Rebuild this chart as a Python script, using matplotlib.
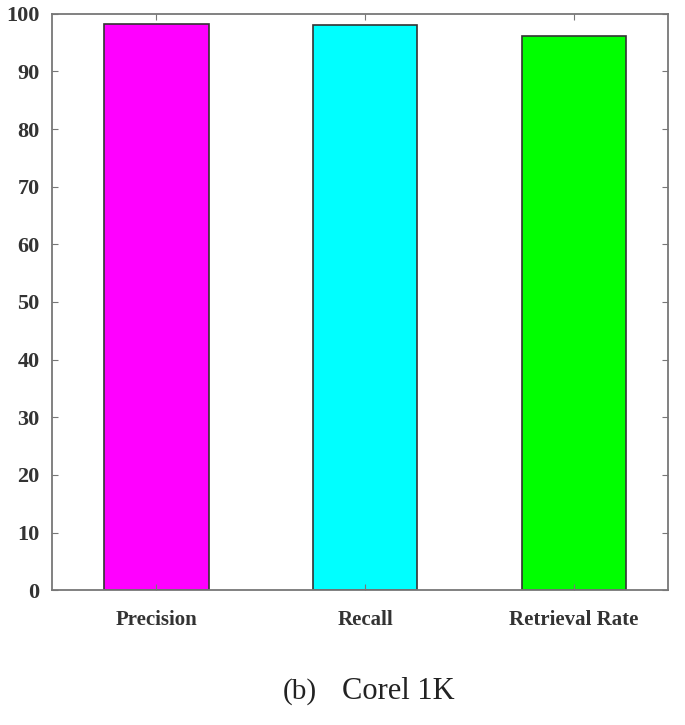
import matplotlib
matplotlib.use("Agg")
import matplotlib.pyplot as plt

categories = ["Precision", "Recall", "Retrieval Rate"]
values = [98.2, 98.1, 96.2]
bar_colors = ["#ff00ff", "#00ffff", "#00ff00"]
y_ticks = list(range(0, 101, 10))

plt.rcParams["font.family"] = ["Liberation Serif", "DejaVu Serif"]

fig = plt.figure(figsize=(6.85, 7.25), dpi=100)
ax = fig.add_axes([0.076, 0.186, 0.899, 0.795])

positions = list(range(1, len(categories) + 1))
ax.bar(positions, values, width=0.5, color=bar_colors,
       edgecolor="#333333", linewidth=1.2)

ax.set_xlim(0.5, 3.45)
ax.set_ylim(0, 100)
ax.set_yticks(y_ticks)
ax.set_xticks(positions)
ax.set_xticklabels(categories, fontsize=15, fontweight="bold", color="#333333")
for lab in ax.get_yticklabels():
    lab.set_fontsize(16)
    lab.set_fontweight("bold")
    lab.set_color("#333333")

ax.tick_params(direction="in", top=True, right=True, length=4,
               color="#777777")
ax.tick_params(axis="x", pad=14)
ax.tick_params(axis="y", pad=9)
for side in ax.spines.values():
    side.set_color("#777777")
    side.set_linewidth(1.3)

# caption below the axes
fig.text(0.413, 0.046, "(b)", ha="left", va="center",
         fontsize=21, color="#222222")
fig.text(0.500, 0.046, "Corel 1K", ha="left", va="center",
         fontsize=22, color="#222222")

fig.savefig("out.png", dpi=100)
